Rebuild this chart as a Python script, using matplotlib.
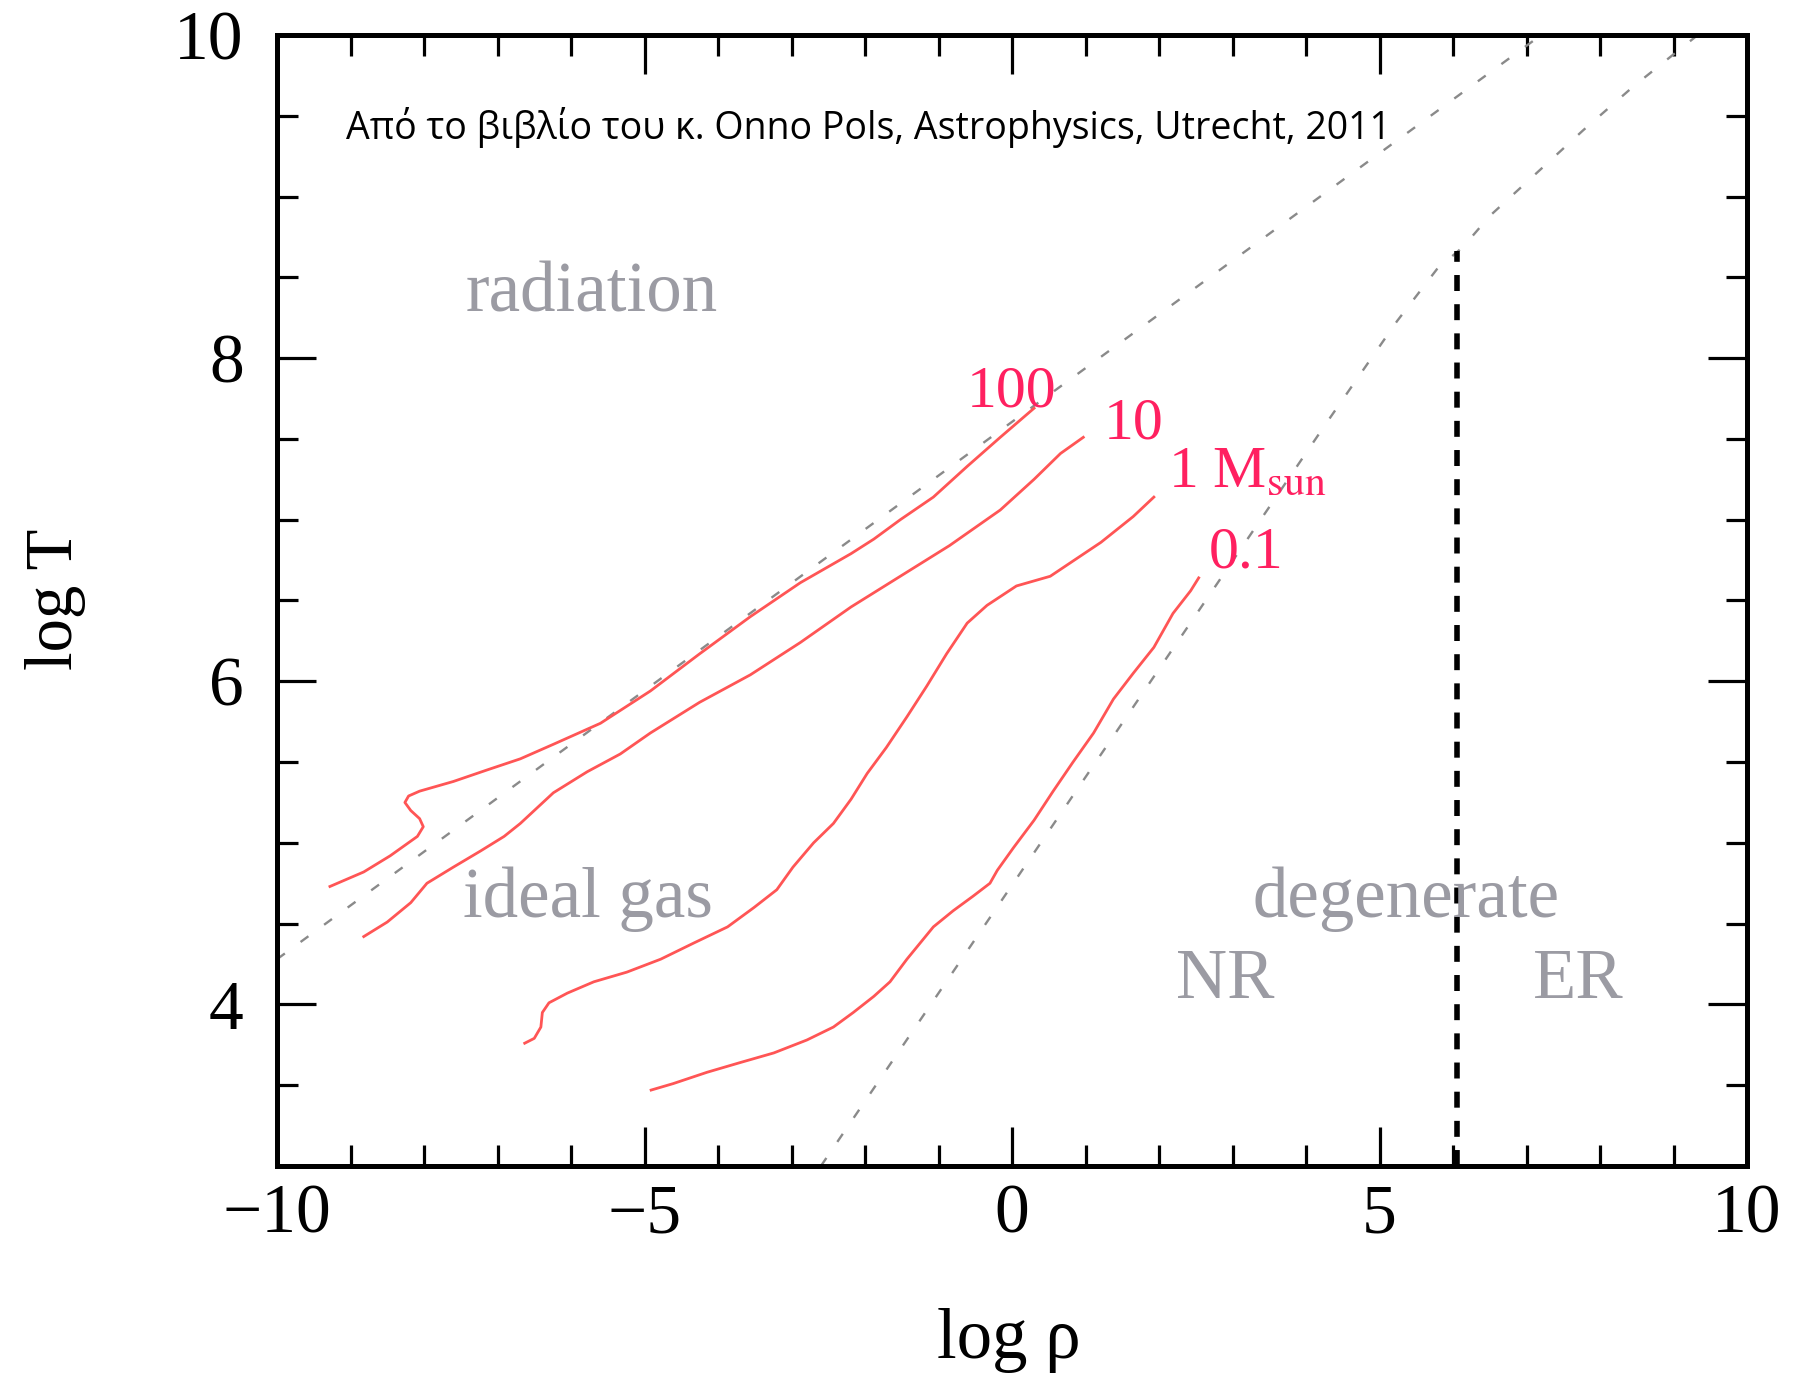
import matplotlib
matplotlib.use("Agg")
import matplotlib.pyplot as plt
from matplotlib.ticker import MultipleLocator

plt.rcParams["font.family"] = ["Liberation Serif", "DejaVu Serif"]
plt.rcParams["mathtext.fontset"] = "stix"
plt.rcParams["lines.scale_dashes"] = False

# central tracks (log rho, log T)
m100_rho = [-9.28, -8.82, -8.46, -8.09, -8.01, -8.06, -8.18, -8.26, -8.21, -8.06, -7.60, -7.15,
            -6.69, -6.24, -5.60, -4.92, -4.25, -3.56, -2.88, -2.19, -1.88, -1.52, -1.07, -0.61,
            -0.16, 0.30]
m100_T = [4.73, 4.82, 4.92, 5.04, 5.10, 5.15, 5.20, 5.25, 5.29, 5.32, 5.38, 5.45,
          5.52, 5.61, 5.74, 5.94, 6.17, 6.40, 6.61, 6.79, 6.88, 7.00, 7.14, 7.33,
          7.51, 7.69]

m10_rho = [-8.82, -8.50, -8.18, -7.96, -7.60, -7.23, -6.91, -6.69, -6.24, -5.78, -5.33, -4.92,
           -4.25, -3.56, -2.88, -2.19, -1.52, -0.85, -0.16, 0.30, 0.66, 0.97]
m10_T = [4.42, 4.51, 4.63, 4.75, 4.85, 4.95, 5.04, 5.12, 5.31, 5.44, 5.55, 5.68,
         5.87, 6.04, 6.24, 6.46, 6.65, 6.84, 7.06, 7.25, 7.41, 7.51]

m1_rho = [-6.63, -6.50, -6.41, -6.39, -6.30, -6.05, -5.69, -5.24, -4.78, -4.33, -3.87, -3.51,
          -3.20, -2.98, -2.70, -2.43, -2.19, -1.97, -1.71, -1.43, -1.16, -0.89, -0.61, -0.34,
          0.06, 0.52, 1.21, 1.65, 1.93]
m1_T = [3.76, 3.79, 3.86, 3.95, 4.01, 4.07, 4.14, 4.20, 4.28, 4.38, 4.48, 4.60,
        4.71, 4.85, 5.00, 5.12, 5.27, 5.43, 5.59, 5.78, 5.97, 6.17, 6.36, 6.47,
        6.59, 6.65, 6.86, 7.02, 7.14]

m01_rho = [-4.91, -4.61, -4.15, -3.70, -3.24, -2.79, -2.43, -2.16, -1.88, -1.66, -1.43, -1.25,
           -1.07, -0.80, -0.53, -0.30, -0.20, 0.02, 0.30, 0.56, 0.83, 1.11, 1.38, 1.65,
           1.93, 2.19, 2.43, 2.54]
m01_T = [3.47, 3.51, 3.58, 3.64, 3.70, 3.78, 3.86, 3.95, 4.05, 4.14, 4.28, 4.38,
         4.48, 4.58, 4.67, 4.75, 4.83, 4.97, 5.14, 5.32, 5.50, 5.68, 5.89, 6.05,
         6.21, 6.42, 6.56, 6.64]

# region boundaries
rad_rho = [-10.0, 7.2]
rad_T = [4.28, 10.0]
deg_rho = [-2.6, 4.28, 5.24, 5.78, 6.14, 6.5, 7.1, 7.77, 8.45, 9.33]
deg_T = [3.0, 7.6, 8.23, 8.55, 8.69, 8.88, 9.13, 9.41, 9.68, 10.0]
er_rho = [6.05, 6.05]
er_T = [3.0, 8.66]

fig = plt.figure(figsize=(18.07, 13.83), dpi=100)
ax = fig.add_axes([0.1533, 0.1569, 0.8135, 0.8178])

gray = "#8a8a8a"
ax.plot(rad_rho, rad_T, color=gray, lw=1.7, dashes=(7, 14))
ax.plot(deg_rho, deg_T, color=gray, lw=1.7, dashes=(7, 14))
ax.plot(er_rho, er_T, color="black", lw=4, dashes=(11.5, 9.5))

red = "#ff5555"
for r, t in [(m100_rho, m100_T), (m10_rho, m10_T), (m1_rho, m1_T), (m01_rho, m01_T)]:
    ax.plot(r, t, color=red, lw=2, solid_joinstyle="round")

ax.set_xlim(-10, 10)
ax.set_ylim(3, 10)
ax.xaxis.set_major_locator(MultipleLocator(5))
ax.xaxis.set_minor_locator(MultipleLocator(1))
ax.yaxis.set_major_locator(MultipleLocator(2))
ax.yaxis.set_minor_locator(MultipleLocator(0.5))
ax.tick_params(which="both", direction="in", top=True, right=True, width=2.3)
ax.tick_params(which="major", length=28, labelsize=50)
ax.tick_params(which="minor", length=15)
ax.tick_params(axis="x", pad=13)
ax.tick_params(axis="y", pad=24)
for s in ax.spines.values():
    s.set_linewidth(3.6)

ax.set_xlabel("log ρ", fontsize=51, va="center")
ax.xaxis.set_label_coords(0.498, -0.154)
ax.set_ylabel("log T", fontsize=48, ha="center", va="center", rotation_mode="anchor")
ax.yaxis.set_label_coords(-0.151, 0.501)

txt = "#9b9ba3"
ax.text(-5.72, 8.40, "radiation", fontsize=51, color=txt, ha="center", va="center")
ax.text(-5.77, 4.65, "ideal gas", fontsize=51, color=txt, ha="center", va="center")
ax.text(5.36, 4.65, "degenerate", fontsize=51, color=txt, ha="center", va="center")
ax.text(2.9, 4.15, "NR", fontsize=51, color=txt, ha="center", va="center")
ax.text(7.71, 4.15, "ER", fontsize=51, color=txt, ha="center", va="center")

lab = "#ff2060"
ax.text(0.0, 7.79, "100", fontsize=43, color=lab, ha="center", va="center")
ax.text(1.65, 7.59, "10", fontsize=43, color=lab, ha="center", va="center")
ax.text(2.12, 7.29, r"1 M$_{\mathrm{sun}}$", fontsize=43, color=lab, ha="left", va="center")
ax.text(3.18, 6.79, "0.1", fontsize=43, color=lab, ha="center", va="center")

ax.text(-9.06, 9.43, "Από το βιβλίο του κ. Onno Pols, Astrophysics, Utrecht, 2011",
        fontsize=27, family=["Open Sans", "DejaVu Sans"], color="black", ha="left", va="center")

fig.savefig("out.png", dpi=100)
